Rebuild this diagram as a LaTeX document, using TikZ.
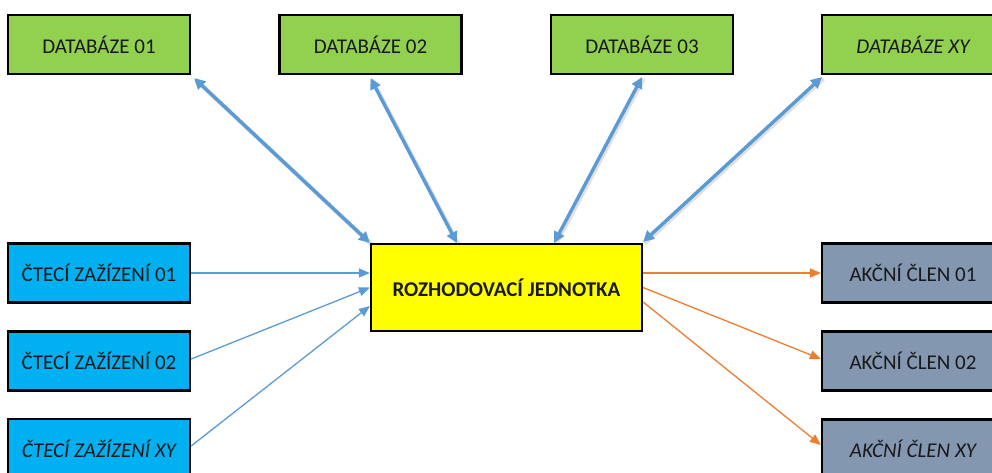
\documentclass[tikz,border=0pt]{standalone}
\usepackage{fontspec}
\setmainfont{Carlito}
\usetikzlibrary{arrows.meta}

\definecolor{dbgreen}{HTML}{92D050}
\definecolor{readerblue}{HTML}{00B0F0}
\definecolor{actgray}{HTML}{8497B0}
\definecolor{unityellow}{HTML}{FFFF00}
\definecolor{linkblue}{HTML}{5B9BD5}
\definecolor{outorange}{HTML}{ED7D31}

\tikzset{
  box/.style={draw=black, line width=2.2pt, minimum width=182pt, minimum height=59pt,
    inner sep=0pt, font=\fontsize{21}{24}\selectfont, text=black!90},
  dbbox/.style={box, fill=dbgreen},
  readerbox/.style={box, fill=readerblue},
  actbox/.style={box, fill=actgray},
  unitbox/.style={box, fill=unityellow, minimum width=271pt, minimum height=87pt,
    font=\fontsize{21}{24}\selectfont\bfseries},
  dblink/.style={linkblue, line width=3.4pt,
    {Triangle[length=11pt,width=11pt]}-{Triangle[length=11pt,width=11pt]}},
  dbshadow/.style={black, opacity=0.12, line width=4.5pt},
  inlink/.style={linkblue, line width=1.3pt, -{Triangle[length=11pt,width=9pt]}},
  outlink/.style={outorange, line width=1.3pt, -{Triangle[length=11pt,width=9pt]}}
}

\begin{document}
\begin{tikzpicture}[x=1pt,y=-1pt]
\useasboundingbox (0,0) rectangle (992,472);
\clip (0,0) rectangle (992,472);

% databases along the top
\node[dbbox] (db1) at (99,44.5) {DATABÁZE 01};
\node[dbbox] (db2) at (370.5,44.5) {DATABÁZE 02};
\node[dbbox] (db3) at (642,44.5) {DATABÁZE 03};
\node[dbbox] (db4) at (913,44.5) {\itshape DATABÁZE XY};

% decision unit
\node[unitbox] (cu) at (506.5,287.5) {ROZHODOVACÍ JEDNOTKA};

% readers on the left
\node[readerbox] (r1) at (99,273) {ČTECÍ ZAŽÍZENÍ 01};
\node[readerbox] (r2) at (99,361) {ČTECÍ ZAŽÍZENÍ 02};
\node[readerbox] (r3) at (99,448.5) {\itshape ČTECÍ ZAŽÍZENÍ XY};

% actuators on the right
\node[actbox] (a1) at (913,273) {AKČNÍ ČLEN 01};
\node[actbox] (a2) at (913,361) {AKČNÍ ČLEN 02};
\node[actbox] (a3) at (913,449) {\itshape AKČNÍ ČLEN XY};

% soft shadows under the database links
\draw[dbshadow] ([shift={(4.5pt,-4.5pt)}]db1.south east) -- ([shift={(1.5pt,-1.5pt)}]cu.north west);
\draw[dbshadow] ([shift={(1.5pt,-4.5pt)}]db2.south) -- ([shift={(88.5pt,-1.5pt)}]cu.north west);
\draw[dbshadow] ([shift={(1.5pt,-3.5pt)}]db3.south) -- ([shift={(-87.5pt,-1.5pt)}]cu.north east);
\draw[dbshadow] ([shift={(2.5pt,-3.5pt)}]db4.south west) -- ([shift={(1.5pt,-0.5pt)}]cu.north east);

% two-way links between the databases and the unit
\draw[dblink] ([shift={(3pt,-3pt)}]db1.south east) -- (cu.north west);
\draw[dblink] ([yshift=-3pt]db2.south) -- ([xshift=87pt]cu.north west);
\draw[dblink] ([yshift=-2pt]db3.south) -- ([xshift=-89pt]cu.north east);
\draw[dblink] ([shift={(1pt,-2pt)}]db4.south west) -- ([yshift=1pt]cu.north east);

% readers into the unit
\draw[inlink] (r1.east) -- ([yshift=14.5pt]cu.west);
\draw[inlink] ([yshift=2pt]r2.east) -- (cu.west);
\draw[inlink] ([yshift=2.5pt]r3.east) -- ([yshift=-18.5pt]cu.west);

% unit out to the actuators
\draw[outlink] ([yshift=14.5pt]cu.east) -- (a1.west);
\draw[outlink] (cu.east) -- ([yshift=2pt]a2.west);
\draw[outlink] ([yshift=-14.5pt]cu.east) -- ([yshift=4pt]a3.west);
\end{tikzpicture}
\end{document}
